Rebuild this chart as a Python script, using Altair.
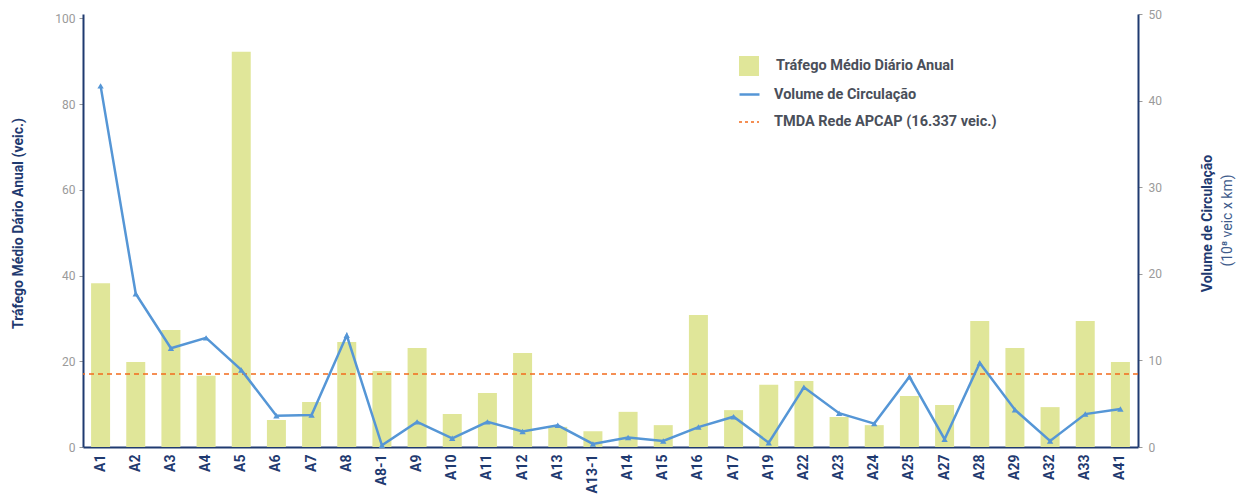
import altair as alt
import pandas as pd

categories = ["A1", "A2", "A3", "A4", "A5", "A6", "A7", "A8", "A8-1", "A9", "A10", "A11", "A12",
              "A13", "A13-1", "A14", "A15", "A16", "A17", "A19", "A22", "A23", "A24", "A25",
              "A27", "A28", "A29", "A32", "A33", "A41"]
tmda = [38.2, 19.8, 27.3, 16.6, 92.2, 6.3, 10.5, 24.5, 17.7, 23.1, 7.7, 12.6, 21.9,
        4.7, 3.7, 8.2, 5.1, 30.8, 8.6, 14.5, 15.4, 7.0, 5.1, 11.9,
        9.8, 29.4, 23.1, 9.3, 29.4, 19.8]
volume = [41.7, 17.7, 11.4, 12.6, 8.9, 3.6, 3.7, 12.9, 0.2, 2.9, 1.0, 2.9, 1.8,
          2.5, 0.35, 1.1, 0.7, 2.3, 3.5, 0.5, 6.9, 3.9, 2.7, 8.1,
          0.9, 9.7, 4.3, 0.7, 3.8, 4.4]
network_avg = [17.0]

S_BAR = "Tráfego Médio Diário Anual"
S_LINE = "Volume de Circulação"
S_RULE = "TMDA Rede APCAP (16.337 veic.)"

BAR_C = "#e0e699"
LINE_C = "#5596d6"
RULE_C = "#f26b1d"
NAVY = "#1f3a70"
GRAY = "#9a9a9a"
FONT = "Roboto"

bar_df = pd.DataFrame({"cat": categories, "v": tmda, "series": S_BAR})
line_df = pd.DataFrame({"cat": categories, "v": volume, "series": S_LINE})
rule_df = pd.DataFrame({"v": network_avg, "series": S_RULE})

TOP = 6
H = 433
LEG_X = 655
LEG_Y0 = 55 - 8 - TOP
LEG_STEP = 28


def legend(idx, offset=16, **kw):
    return alt.Legend(
        title=None, orient="none", legendX=LEG_X, legendY=LEG_Y0 + idx * LEG_STEP, padding=0,
        symbolSize=400, labelOffset=offset,
        labelFont=FONT, labelFontSize=14.5, labelFontWeight="bold", labelColor="#4a4f5a",
        labelLimit=400, **kw,
    )


x_enc = alt.X(
    "cat:N", sort=categories, title=None,
    scale=alt.Scale(paddingInner=0.46),
    axis=alt.Axis(labelAngle=270, labelFont=FONT, labelFontSize=14, labelFontWeight="bold",
                  labelColor=NAVY, labelPadding=7, ticks=False, domainColor=NAVY,
                  domainWidth=2, labelAlign="right", labelBaseline="middle"),
)

LEFT_DOM = [0, 101.0]

bars = alt.Chart(bar_df).mark_bar().encode(
    x=x_enc,
    y=alt.Y("v:Q", scale=alt.Scale(domain=LEFT_DOM, nice=False),
            axis=alt.Axis(orient="left", values=[0, 20, 40, 60, 80, 100],
                          title="Tráfego Médio Dário Anual (veic.)",
                          titleFont=FONT, titleFontSize=14, titleFontWeight="bold",
                          titleColor=NAVY, titleAngle=270, titleAlign="center",
                          titleBaseline="middle", titleX=-65, titleY=223 - 8 - TOP,
                          labelFont=FONT, labelFontSize=12, labelColor=GRAY,
                          labelPadding=4, tickColor=GRAY, tickSize=4,
                          domainColor=NAVY, domainWidth=2, grid=False)),
    color=alt.Color("series:N", scale=alt.Scale(domain=[S_BAR], range=[BAR_C]),
                    legend=legend(0, symbolType="square", symbolOpacity=1)),
)

rule = alt.Chart(rule_df).mark_rule(strokeDash=[5, 4], strokeWidth=1.5).encode(
    y=alt.Y("v:Q", scale=alt.Scale(domain=LEFT_DOM, nice=False), axis=None),
    color=alt.Color("series:N", scale=alt.Scale(domain=[S_RULE], range=[RULE_C]),
                    legend=legend(2, offset=14, symbolType="stroke", symbolDash=[3, 3],
                                  symbolStrokeWidth=1.5, symbolStrokeColor=RULE_C)),
)

line = alt.Chart(line_df).mark_line(
    strokeWidth=2.5,
    point=alt.OverlayMarkDef(shape="triangle-up", size=40, filled=True, color=LINE_C),
).encode(
    x=alt.X("cat:N", sort=categories),
    y=alt.Y("v:Q", scale=alt.Scale(domain=[0, 50], nice=False),
            axis=alt.Axis(orient="right", values=[0, 10, 20, 30, 40, 50],
                          title="Volume de Circulação",
                          titleFont=FONT, titleFontSize=14, titleFontWeight="bold",
                          titleColor=NAVY, titleAngle=270, titleAlign="center",
                          titleBaseline="middle", titleX=69, titleY=223 - 8 - TOP,
                          labelFont=FONT, labelFontSize=12, labelColor=GRAY,
                          labelPadding=6, tickColor=GRAY, tickSize=4,
                          domainColor=NAVY, domainWidth=2, grid=False)),
    color=alt.Color("series:N", scale=alt.Scale(domain=[S_LINE], range=[LINE_C]),
                    legend=legend(1, offset=13, symbolType="stroke", symbolStrokeWidth=2.5,
                                  symbolStrokeColor=LINE_C)),
)

unit_axis = alt.Chart(line_df).mark_line(opacity=0).encode(
    x=alt.X("cat:N", sort=categories),
    y=alt.Y("v:Q", scale=alt.Scale(domain=[0, 50], nice=False),
            axis=alt.Axis(orient="right", title="(10⁸ veic x km)",
                          titleFont=FONT, titleFontSize=14, titleFontWeight="normal",
                          titleColor="#3d5a8a", titleAngle=270, titleAlign="center",
                          titleBaseline="middle", titleX=89, titleY=220 - 8 - TOP,
                          labels=False, ticks=False, domain=False, grid=False)),
)

chart = alt.layer(bars, rule, line, unit_axis).resolve_scale(
    y="independent", color="independent"
).properties(
    width=1055, height=H,
    autosize=alt.AutoSizeParams(type="none"),
    padding={"left": 75, "top": TOP, "right": 101, "bottom": 49},
).configure_view(stroke=None)

chart.save("out.html", embed_options={"renderer": "svg", "actions": False})
